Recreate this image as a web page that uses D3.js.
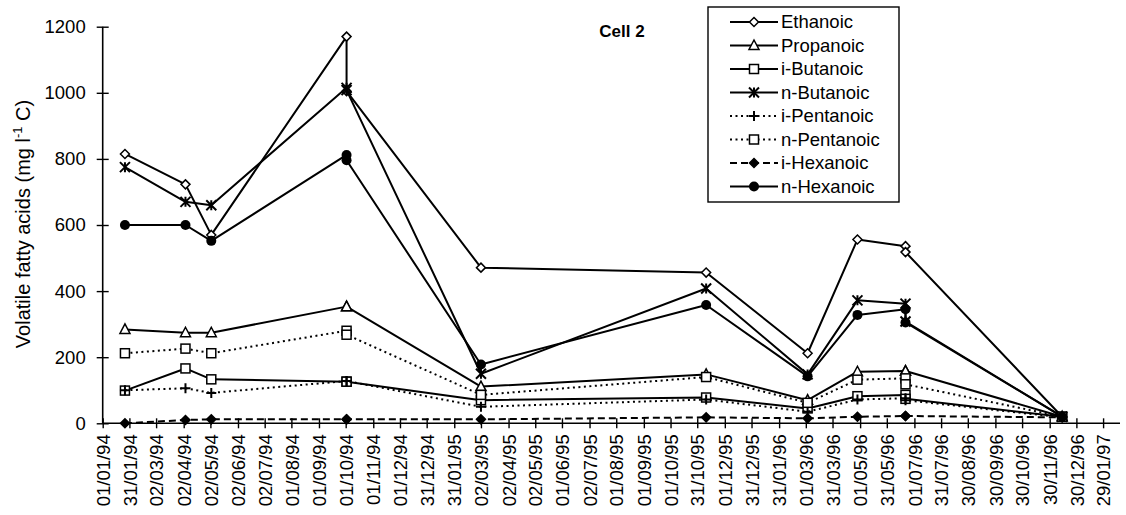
<!DOCTYPE html>
<html><head><meta charset="utf-8">
<script src="https://cdn.jsdelivr.net/npm/d3@7"></script>
<style>body{margin:0;background:#fff}svg{display:block}</style>
</head><body><svg id="c" width="1126" height="515"></svg>
<script>
// ---- data ----
const sampleDates = ["1994-01-26","1994-04-04","1994-05-03","1994-10-02","1994-10-02","1995-03-02","1995-11-10","1996-03-03","1996-04-28","1996-06-21","1996-06-21","1996-12-14"];
const ethanoic   = [815, 723, 570, 1170, 1005, 471, 456, 212, 556, 536, 518, 20];
const propanoic  = [284, 274, 274, 353, 353, 111, 148, 70, 156, 158, 158, 20];
const iButanoic  = [99, 166, 133, 126, 126, 70, 78, 45, 82, 86, 74, 20];
const nButanoic  = [775, 670, 660, 1015, 1008, 150, 408, 148, 372, 362, 308, 20];
const iPentanoic = [100, 106, 92, 128, 128, 50, 72, 35, 72, 76, 70, 18];
const nPentanoic = [212, 226, 212, 280, 268, 86, 140, 62, 132, 136, 118, 20];
const iHexanoic  = [0, 10, 12, 12, 12, 12, 18, 15, 20, 22, 22, 18];
const nHexanoic  = [600, 600, 552, 812, 796, 178, 358, 142, 328, 345, 305, 20];
const seriesNames = ["Ethanoic","Propanoic","i-Butanoic","n-Butanoic","i-Pentanoic","n-Pentanoic","i-Hexanoic","n-Hexanoic"];
const seriesValues = [ethanoic, propanoic, iButanoic, nButanoic, iPentanoic, nPentanoic, iHexanoic, nHexanoic];
const tickLabels = ["01/01/94","31/01/94","02/03/94","02/04/94","02/05/94","02/06/94","02/07/94","01/08/94","01/09/94","01/10/94","01/11/94","01/12/94","31/12/94","31/01/95","02/03/95","02/04/95","02/05/95","01/06/95","02/07/95","01/08/95","01/09/95","01/10/95","31/10/95","01/12/95","31/12/95","31/01/96","01/03/96","31/03/96","01/05/96","31/05/96","01/07/96","31/07/96","30/08/96","30/09/96","30/10/96","30/11/96","30/12/96","29/01/97"];
const yTicks = [0,200,400,600,800,1000,1200];
const chartTitle = "Cell 2";

// ---- styles ----
const styles = {
  "Ethanoic":   {dash:null,  marker:"diamondOpen"},
  "Propanoic":  {dash:null,  marker:"triangleOpen"},
  "i-Butanoic": {dash:null,  marker:"squareOpen"},
  "n-Butanoic": {dash:null,  marker:"star"},
  "i-Pentanoic":{dash:"2,3.5", marker:"plus"},
  "n-Pentanoic":{dash:"2,3.5", marker:"squareOpen"},
  "i-Hexanoic": {dash:"7,4", marker:"diamondFilled"},
  "n-Hexanoic": {dash:null,  marker:"circleFilled"}
};
const FONT = "'Liberation Sans', Arial, Helvetica, sans-serif";

const svg = d3.select("#c");
const parseISO = d3.timeParse("%Y-%m-%d");
const parseTick = d3.timeParse("%d/%m/%y");
const dates = sampleDates.map(parseISO);
const tickDates = tickLabels.map(parseTick);

const x0 = 102.7, x1 = 1120, yTop = 26.7, yBot = 423.3;
const x = d3.scaleTime().domain([parseISO("1994-01-01"), parseISO("1997-02-17")]).range([x0, x1]);
const y = d3.scaleLinear().domain([0,1200]).range([yBot, yTop]);

// axes
const xAxis = svg.append("g").attr("transform", `translate(0,${yBot})`)
  .call(d3.axisBottom(x).tickValues(tickDates).tickFormat(d3.timeFormat("%d/%m/%y")).tickSize(5).tickPadding(0));
xAxis.select(".domain").attr("stroke","#000").attr("stroke-width",1.6).attr("d",`M${x0},0H${x1}`);
xAxis.selectAll(".tick line").attr("y1",-5).attr("y2",5).attr("stroke","#000").attr("stroke-width",1.4);
xAxis.selectAll(".tick text")
  .attr("font-family",FONT).attr("font-size",18.5).attr("fill","#000")
  .attr("text-anchor","end").attr("transform","translate(0,11) rotate(-90)")
  .attr("x",0).attr("y",0).attr("dy","0.36em");

const yAxis = svg.append("g").attr("transform", `translate(${x0},0)`)
  .call(d3.axisLeft(y).tickValues(yTicks).tickFormat(d3.format("d")).tickSize(6).tickPadding(11));
yAxis.select(".domain").attr("stroke","#000").attr("stroke-width",1.6).attr("d",`M0,${yTop}V${yBot}`);
yAxis.selectAll(".tick line").attr("x1",-6).attr("x2",6).attr("stroke","#000").attr("stroke-width",1.4);
yAxis.selectAll(".tick text").attr("font-family",FONT).attr("font-size",18.5).attr("fill","#000");

// y title
const yt = svg.append("text").attr("transform","translate(30,224) rotate(-90)")
  .attr("text-anchor","middle").attr("font-family",FONT).attr("font-size",20).attr("fill","#000");
yt.append("tspan").text("Volatile fatty acids (mg l");
yt.append("tspan").attr("dy",-8).attr("font-size",13).text("-1");
yt.append("tspan").attr("dy",8).text(" C)");

// title
svg.append("text").attr("x",622).attr("y",37).attr("text-anchor","middle")
  .attr("font-family",FONT).attr("font-weight","bold").attr("font-size",17).text(chartTitle);

// markers
function drawMarker(g, type, cx, cy) {
  const s = 4.5;
  if (type==="diamondOpen" || type==="diamondFilled") {
    g.append("path").attr("d",`M${cx},${cy-s}L${cx+s},${cy}L${cx},${cy+s}L${cx-s},${cy}Z`)
      .attr("fill", type==="diamondFilled"?"#000":"#fff").attr("stroke","#000").attr("stroke-width",1.5);
  } else if (type==="triangleOpen") {
    g.append("path").attr("d",`M${cx},${cy-5.5}L${cx+5},${cy+4}L${cx-5},${cy+4}Z`)
      .attr("fill","#fff").attr("stroke","#000").attr("stroke-width",1.5);
  } else if (type==="squareOpen") {
    g.append("rect").attr("x",cx-4.5).attr("y",cy-4.5).attr("width",9).attr("height",9)
      .attr("fill","#fff").attr("stroke","#000").attr("stroke-width",1.5);
  } else if (type==="star") {
    g.append("path").attr("d",`M${cx-5},${cy-5}L${cx+5},${cy+5}M${cx-5},${cy+5}L${cx+5},${cy-5}M${cx},${cy-5}L${cx},${cy+5}`)
      .attr("stroke","#000").attr("stroke-width",2).attr("fill","none");
  } else if (type==="plus") {
    g.append("path").attr("d",`M${cx-5},${cy}L${cx+5},${cy}M${cx},${cy-5}L${cx},${cy+5}`)
      .attr("stroke","#000").attr("stroke-width",2).attr("fill","none");
  } else if (type==="circleFilled") {
    g.append("circle").attr("cx",cx).attr("cy",cy).attr("r",5).attr("fill","#000");
  }
}

const line = d3.line().x(d=>x(d[0])).y(d=>y(d[1]));
const plot = svg.append("g");
seriesNames.forEach((name,i)=>{
  const pts = dates.map((d,j)=>[d, seriesValues[i][j]]);
  const st = styles[name];
  const g = plot.append("g");
  g.append("path").attr("d", line(pts)).attr("fill","none").attr("stroke","#000")
    .attr("stroke-width",2).attr("stroke-dasharray", st.dash).attr("stroke-linejoin","round");
  pts.forEach(p=>drawMarker(g, st.marker, x(p[0]), y(p[1])));
});

// legend
const lg = svg.append("g");
const lgX = 708, lgY = 7, lgW = 191, lgH = 195, rowH = 23.5;
lg.append("rect").attr("x",lgX).attr("y",lgY).attr("width",lgW).attr("height",lgH)
  .attr("fill","#fff").attr("stroke","#000").attr("stroke-width",1.4);
seriesNames.forEach((name,i)=>{
  const cy = lgY + 15 + i*rowH;
  const st = styles[name];
  lg.append("line").attr("x1",730).attr("x2",778).attr("y1",cy).attr("y2",cy)
    .attr("stroke","#000").attr("stroke-width",2).attr("stroke-dasharray",st.dash);
  drawMarker(lg, st.marker, 754, cy);
  lg.append("text").attr("x",781).attr("y",cy).attr("dy","0.35em")
    .attr("font-family",FONT).attr("font-size",18.5).text(name);
});
</script></body></html>
